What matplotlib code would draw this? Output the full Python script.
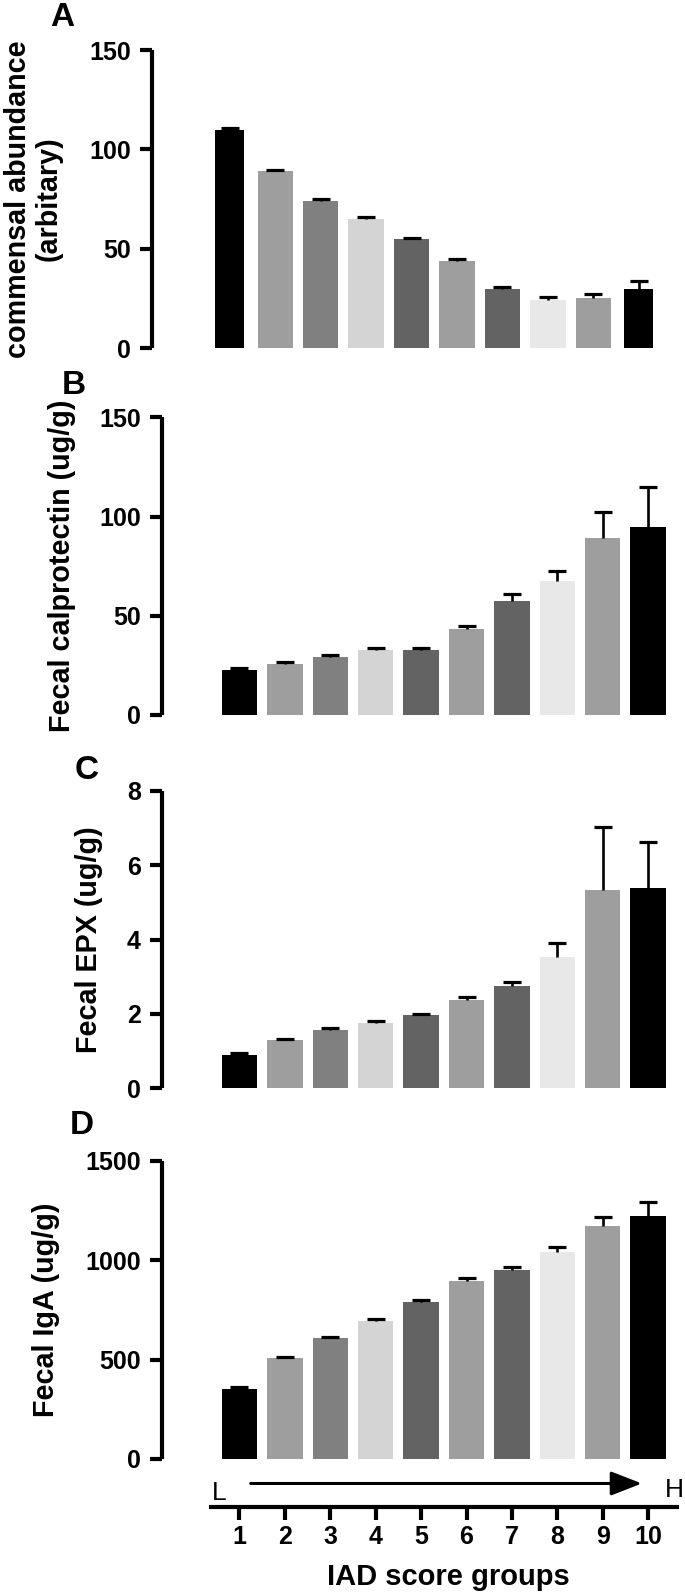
import numpy as np
import matplotlib
matplotlib.use('Agg')
import matplotlib.pyplot as plt

plt.rcParams['font.family'] = ['Liberation Sans', 'DejaVu Sans']

# ---------------- data ----------------
groups = list(range(1, 11))
group_labels = [str(g) for g in groups]

commensal = [109.6, 89.0, 74.1, 65.0, 54.8, 43.7, 30.0, 24.4, 25.1, 29.7]
commensal_err = [1.0, 0.8, 0.8, 1.0, 0.8, 1.0, 1.0, 1.2, 2.0, 4.0]

calprotectin = [22.5, 25.9, 29.1, 32.6, 32.6, 43.2, 57.6, 67.5, 89.4, 94.9]
calprotectin_err = [1.0, 0.6, 1.0, 1.2, 1.2, 1.8, 3.4, 4.9, 13.1, 20.2]

epx = [0.90, 1.29, 1.56, 1.76, 1.96, 2.37, 2.74, 3.54, 5.34, 5.38]
epx_err = [0.05, 0.04, 0.05, 0.05, 0.05, 0.08, 0.12, 0.36, 1.68, 1.26]

iga = [351, 507, 607, 696, 792, 896, 950, 1042, 1175, 1223]
iga_err = [12, 7, 8, 10, 10, 15, 17, 23, 45, 69]

bar_colors = ['#000000', '#9e9e9e', '#808080', '#d4d4d4', '#636363',
              '#9e9e9e', '#636363', '#e8e8e8', '#9e9e9e', '#000000']

# ---------------- layout helpers (pixels) ----------------
W, H = 685, 1595
fig = plt.figure(figsize=(W / 100, H / 100), dpi=100)


def rect(left, top, right, bottom):
    return [left / W, 1 - bottom / H, (right - left) / W, (bottom - top) / H]


XLIM = (-0.71, 10.7)
SPINE_LW = 3.0
TICK_FS = 18
LABEL_FS = 20.7
LETTER_FS = 24

panels = [
    dict(letter='A', vals=commensal, err=commensal_err, ymax=150,
         ticks=[0, 50, 100, 150], box=(152.2, 50, 670.5, 348.3),
         ylabel='commensal abundance\n(arbitary)', ylabel_x=33,
         letter_xy=(50, 2),
         widths=[0.64] + [0.78] * 8 + [0.64]),
    dict(letter='B', vals=calprotectin, err=calprotectin_err, ymax=150,
         ticks=[0, 50, 100, 150], box=(161.7, 417.3, 680, 715),
         ylabel='Fecal calprotectin (ug/g)', ylabel_x=62,
         letter_xy=(62, 370), widths=[0.78] * 10),
    dict(letter='C', vals=epx, err=epx_err, ymax=8,
         ticks=[0, 2, 4, 6, 8], box=(161.7, 791, 680, 1088.3),
         ylabel='Fecal EPX (ug/g)', ylabel_x=89,
         letter_xy=(75, 755), widths=[0.78] * 10),
    dict(letter='D', vals=iga, err=iga_err, ymax=1500,
         ticks=[0, 500, 1000, 1500], box=(161.7, 1161, 680, 1459),
         ylabel='Fecal IgA (ug/g)', ylabel_x=46,
         letter_xy=(70, 1110), widths=[0.78] * 10),
]

for p in panels:
    l, t, r, b = p['box']
    ax = fig.add_axes(rect(l, t, r, b))
    vals = np.array(p['vals'], dtype=float)
    err = np.array(p['err'], dtype=float)
    ax.bar(groups, vals, width=p['widths'], color=bar_colors, zorder=2,
           linewidth=0)
    eb = ax.errorbar(groups, vals, yerr=[np.zeros_like(err), err], fmt='none',
                     ecolor='black', elinewidth=1.9, capsize=6.8, capthick=2.3,
                     zorder=3)
    for cl in eb[1]:
        if np.allclose(cl.get_ydata(), vals):
            cl.set_visible(False)
        cl.set_clip_on(False)
    for c in eb[2]:
        c.set_clip_on(False)
    ax.set_xlim(*XLIM)
    ax.set_ylim(0, p['ymax'])
    ax.set_yticks(p['ticks'])
    ax.set_yticklabels([str(v) for v in p['ticks']], fontsize=TICK_FS,
                       fontweight='bold')
    for s in ['top', 'right', 'bottom']:
        ax.spines[s].set_visible(False)
    ax.spines['left'].set_linewidth(SPINE_LW)
    ax.spines['left'].set_capstyle('butt')
    ax.tick_params(axis='y', length=9, width=SPINE_LW, pad=6)
    ax.set_xticks([])
    ax.patch.set_alpha(0)

    yc = (t + b) / 2
    fig.text(p['ylabel_x'] / W, 1 - yc / H, p['ylabel'], rotation=90,
             ha='center', va='center', fontsize=LABEL_FS, fontweight='bold',
             multialignment='center', linespacing=1.12)
    fig.text(p['letter_xy'][0] / W, 1 - p['letter_xy'][1] / H, p['letter'],
             ha='left', va='top', fontsize=LETTER_FS, fontweight='bold')

# ---------------- shared x axis (IAD score groups) ----------------
axx = fig.add_axes(rect(161.7, 1468, 680, 1506.7))
axx.set_xlim(*XLIM)
axx.set_ylim(0, 1)
for s in ['top', 'right', 'left']:
    axx.spines[s].set_visible(False)
axx.spines['bottom'].set_linewidth(SPINE_LW)
axx.spines['bottom'].set_bounds(0.337, 10.68)
axx.spines['bottom'].set_capstyle('butt')
axx.set_yticks([])
axx.set_xticks(groups)
axx.set_xticklabels(group_labels, fontsize=TICK_FS, fontweight='bold')
axx.tick_params(axis='x', length=9.5, width=SPINE_LW, pad=4)
axx.patch.set_alpha(0)

axx.annotate('', xy=(9.86, 0.6), xytext=(1.25, 0.6),
             arrowprops=dict(arrowstyle='-|>,head_length=0.95,head_width=0.37',
                             lw=2.2, color='black', shrinkA=0, shrinkB=0,
                             mutation_scale=20))
axx.text(0.40, 0.17, 'L', ha='left', va='baseline', fontsize=19,
         clip_on=False)
axx.text(10.37, 0.25, 'H', ha='left', va='baseline', fontsize=19,
         clip_on=False)

fig.text(448 / W, 1 - 1577 / H, 'IAD score groups', ha='center', va='center',
         fontsize=21, fontweight='bold')

fig.savefig('out.png', dpi=100)
